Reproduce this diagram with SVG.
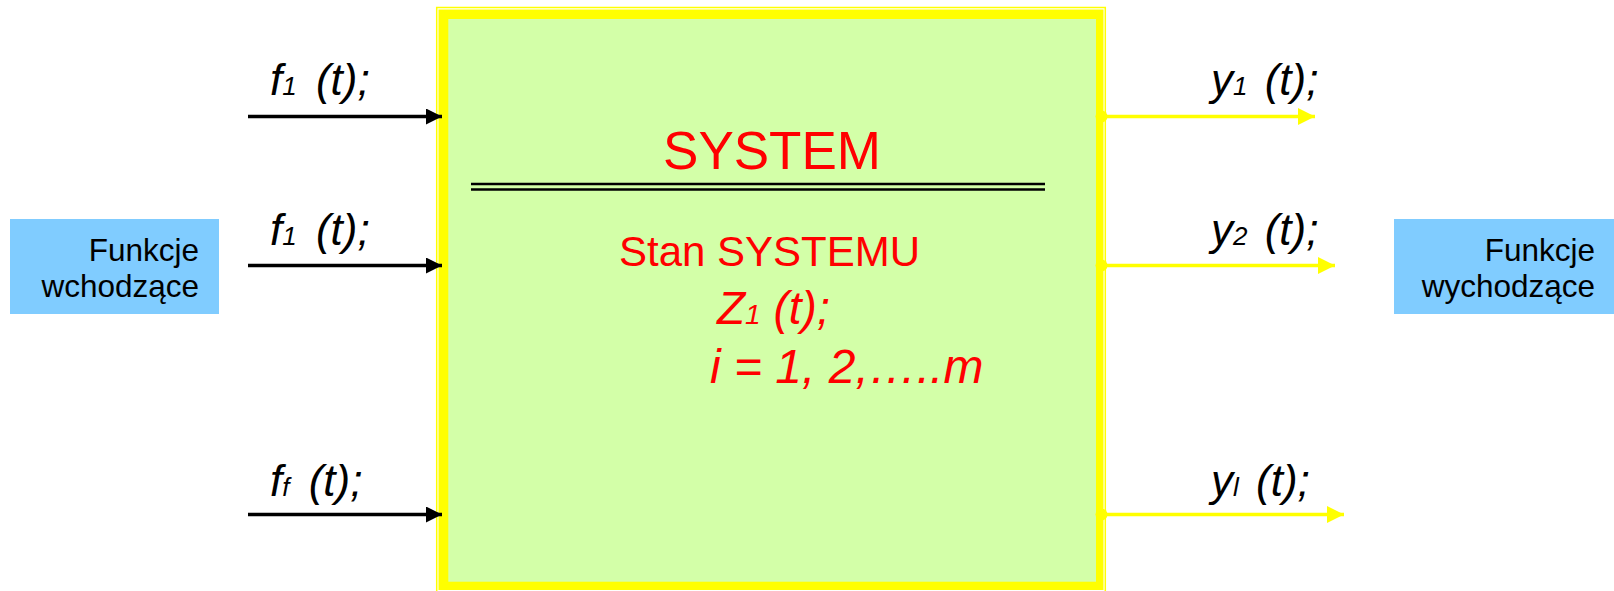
<svg xmlns="http://www.w3.org/2000/svg" width="1614" height="591" viewBox="0 0 1614 591">
<defs>
<style>
.lbl{font-family:"Liberation Sans",Arial,sans-serif;font-style:italic;fill:#000;font-size:44px}
.sub{font-size:26px}
.side{font-family:"Liberation Sans",Arial,sans-serif;font-size:31.5px;fill:#000;text-anchor:end}
.red{font-family:"Liberation Sans",Arial,sans-serif;fill:#FF0000}
.in{stroke:#000;stroke-width:3.5;fill:none}
.out{stroke:#FFFF00;stroke-width:3.5;fill:none}
</style>
<marker id="ab" viewBox="0 0 10 10" refX="10" refY="5" markerWidth="16" markerHeight="16" markerUnits="userSpaceOnUse" orient="auto"><path d="M0,0 L10,5 L0,10 z" fill="#000"/></marker>
<marker id="ay" viewBox="0 0 10 10" refX="10" refY="5" markerWidth="17" markerHeight="17" markerUnits="userSpaceOnUse" orient="auto"><path d="M0,0 L10,5 L0,10 z" fill="#FFFF00"/></marker>
</defs>
<rect width="1614" height="591" fill="#fff"/>
<g id="system">
<rect x="436.7" y="7.5" width="668.6" height="590" fill="none" stroke="#FFFF00" stroke-width="1.5"/>
<rect x="438.5" y="9.5" width="665" height="580.5" fill="#FFFF00"/>
<rect x="448.3" y="19" width="647.7" height="562.7" fill="#D3FFA8"/>
<text class="red" x="772" y="169" font-size="53" text-anchor="middle">SYSTEM</text>
<line x1="471" y1="184" x2="1045" y2="184" stroke="#000" stroke-width="2.4"/>
<line x1="471" y1="189.5" x2="1045" y2="189.5" stroke="#000" stroke-width="2.4"/>
<text class="red" x="619" y="265.5" font-size="42">Stan SYSTEMU</text>
<text class="red" x="717" y="324" font-size="46" font-style="italic">Z<tspan font-size="28">1</tspan> (t);</text>
<text class="red" x="710" y="383" font-size="48" font-style="italic">i = 1, 2,…..m</text>
</g>
<g id="in-box">
<rect x="10" y="219" width="209" height="95" fill="#80CCFF"/>
<text class="side" x="199" y="261">Funkcje</text>
<text class="side" x="199" y="297">wchodzące</text>
</g>
<g id="out-box">
<rect x="1394" y="219" width="220" height="95" fill="#80CCFF"/>
<text class="side" x="1595" y="261">Funkcje</text>
<text class="side" x="1595" y="297">wychodzące</text>
</g>
<g id="labels">
<text class="lbl" x="270" y="95">f<tspan class="sub">1</tspan><tspan dx="7"> (t);</tspan></text>
<text class="lbl" x="270" y="245">f<tspan class="sub">1</tspan><tspan dx="7"> (t);</tspan></text>
<text class="lbl" x="270" y="496">f<tspan class="sub">f</tspan><tspan dx="7"> (t);</tspan></text>
<text class="lbl" x="1211" y="95">y<tspan class="sub">1</tspan><tspan dx="5"> (t);</tspan></text>
<text class="lbl" x="1211" y="245">y<tspan class="sub">2</tspan><tspan dx="5"> (t);</tspan></text>
<text class="lbl" x="1211" y="496">y<tspan class="sub">l</tspan><tspan dx="5"> (t);</tspan></text>
</g>
<g id="connectors">
<line class="in" x1="248" y1="116.5" x2="442" y2="116.5" marker-end="url(#ab)"/>
<line class="in" x1="248" y1="265.5" x2="442" y2="265.5" marker-end="url(#ab)"/>
<line class="in" x1="248" y1="514.5" x2="442" y2="514.5" marker-end="url(#ab)"/>
<line class="out" x1="1101" y1="116.5" x2="1315" y2="116.5" marker-end="url(#ay)"/>
<line class="out" x1="1101" y1="265.5" x2="1335" y2="265.5" marker-end="url(#ay)"/>
<line class="out" x1="1101" y1="514.5" x2="1344" y2="514.5" marker-end="url(#ay)"/>
<circle cx="1101.5" cy="116.5" r="6" fill="#FFFF00"/>
<circle cx="1101.5" cy="265.5" r="6" fill="#FFFF00"/>
<circle cx="1101.5" cy="514.5" r="6" fill="#FFFF00"/>
</g>
</svg>
